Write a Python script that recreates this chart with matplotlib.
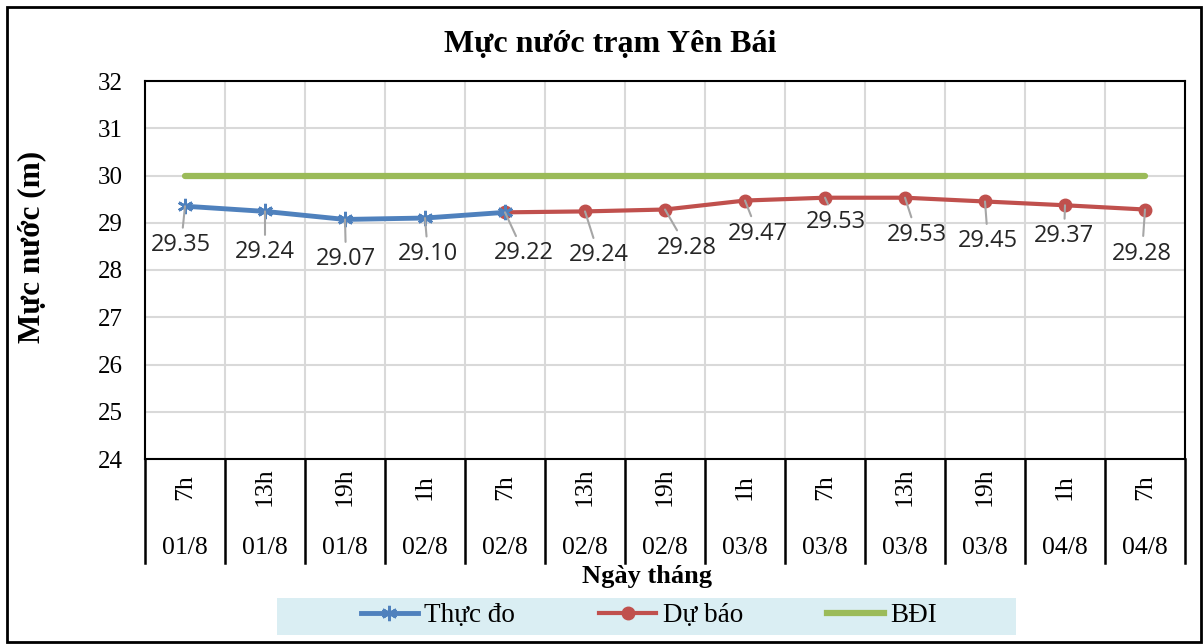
import matplotlib.pyplot as plt
from matplotlib.patches import Rectangle
from matplotlib.lines import Line2D

# du lieu
gio = ['7h', '13h', '19h', '1h', '7h', '13h', '19h', '1h', '7h', '13h', '19h', '1h', '7h']
ngay = ['01/8', '01/8', '01/8', '02/8', '02/8', '02/8', '02/8', '03/8', '03/8', '03/8', '03/8', '04/8', '04/8']
thuc_do = [29.35, 29.24, 29.07, 29.10, 29.22]
du_bao = [29.22, 29.24, 29.28, 29.47, 29.53, 29.53, 29.45, 29.37, 29.28]
bdi = [30] * 13

x_td = list(range(0, 5))
x_db = list(range(4, 13))
x_all = list(range(13))

# vi tri nhan (pixel lech so voi diem)
lech = [(-4, -39), (0, -41), (1, -40), (3, -36), (19, -41), (14, -44), (22, -38),
        (13, -33), (11, -24), (12, -37), (3, -40), (-1, -31), (-3, -44)]

serif = 'Liberation Serif'
W, H = 1203, 644
fig = plt.figure(figsize=(W / 100, H / 100), dpi=100)

L, R, T, B = 145, 1185, 81, 459
ax = fig.add_axes([L / W, 1 - B / H, (R - L) / W, (B - T) / H])
ax.set_xlim(-0.5, 12.5)
ax.set_ylim(24, 32)
ax.set_yticks(range(24, 33))
ax.set_xticks([i + 0.5 for i in range(12)], minor=True)
ax.set_xticks([])
ax.tick_params(axis='x', which='minor', length=0)
ax.grid(True, which='minor', axis='x', color='#D9D9D9', lw=1.5)
ax.grid(True, which='major', axis='y', color='#D9D9D9', lw=1.5)
ax.set_axisbelow(True)
ax.tick_params(axis='y', length=0, labelsize=18, pad=16)
for t in ax.get_yticklabels():
    t.set_fontfamily(serif)
for s in ax.spines.values():
    s.set_color('black')
    s.set_linewidth(1.5)

ax.plot(x_all, bdi, color='#9BBB59', lw=4.5, solid_capstyle='round', zorder=2)
ax.plot(x_db, du_bao, color='#C0504D', lw=3, marker='o', ms=9, zorder=3)
ax.plot(x_td, thuc_do, color='#4F81BD', lw=3.5, marker=(6, 2, 0), ms=11, mew=2, zorder=4)

gia_tri = thuc_do[:4] + du_bao
for i, v in enumerate(gia_tri):
    ax.annotate(f'{v:.2f}', (i, v), xytext=lech[i], textcoords='offset pixels',
                ha='center', va='center', fontsize=17, fontfamily='Open Sans',
                color='#262626', zorder=5,
                arrowprops=dict(arrowstyle='-', color='#A6A6A6', lw=1.5,
                                shrinkA=2, shrinkB=0))

# bang truc x
tb = 563
ax2 = fig.add_axes([L / W, 1 - tb / H, (R - L) / W, (tb - B) / H])
ax2.set_xlim(-0.5, 12.5)
ax2.set_ylim(0, 1)
ax2.axis('off')
for i in range(14):
    ax2.plot([i - 0.5, i - 0.5], [0, 1], color='black', lw=1.8, clip_on=False)
for i in range(13):
    ax2.text(i, 0.73, gio[i], rotation=90, ha='center', va='center', fontsize=18.5, fontfamily=serif)
    ax2.text(i, 0.14, ngay[i], ha='center', va='center', fontsize=18.5, fontfamily=serif)

fig.text(647 / W, 1 - 577 / H, 'Ngày tháng', ha='center', va='center', fontsize=19,
         fontweight='bold', fontfamily=serif)
fig.text(610 / W, 1 - 45 / H, 'Mực nước trạm Yên Bái', ha='center', va='center',
         fontsize=23, fontweight='bold', fontfamily=serif)
fig.text(32 / W, 1 - 247 / H, 'Mực nước (m)', ha='center', va='center', rotation=90,
         fontsize=22.5, fontweight='bold', fontfamily=serif)

# chu thich
fig.patches.append(Rectangle((277 / W, 1 - 635 / H), 739 / W, 37 / H, transform=fig.transFigure,
                             facecolor='#DAEEF3', edgecolor='none', zorder=0))
h1 = Line2D([], [], color='#4F81BD', lw=3.5, marker=(6, 2, 0), ms=11, mew=2)
h2 = Line2D([], [], color='#C0504D', lw=3, marker='o', ms=9)
h3 = Line2D([], [], color='#9BBB59', lw=4.5)
leg = fig.legend([h1, h2, h3], ['Thực đo', 'Dự báo', 'BĐI'], loc='center', ncol=3,
                 bbox_to_anchor=(649 / W, 1 - 616 / H), frameon=False,
                 prop={'family': serif, 'size': 19.5}, numpoints=1, handlelength=2.1,
                 handletextpad=0.25, columnspacing=3.1, borderpad=0)

fig.patches.append(Rectangle((7 / W, 2 / H), 1194 / W, 635 / H, transform=fig.transFigure,
                             fill=False, edgecolor='black', lw=2))

fig.savefig('out.png', dpi=100)
